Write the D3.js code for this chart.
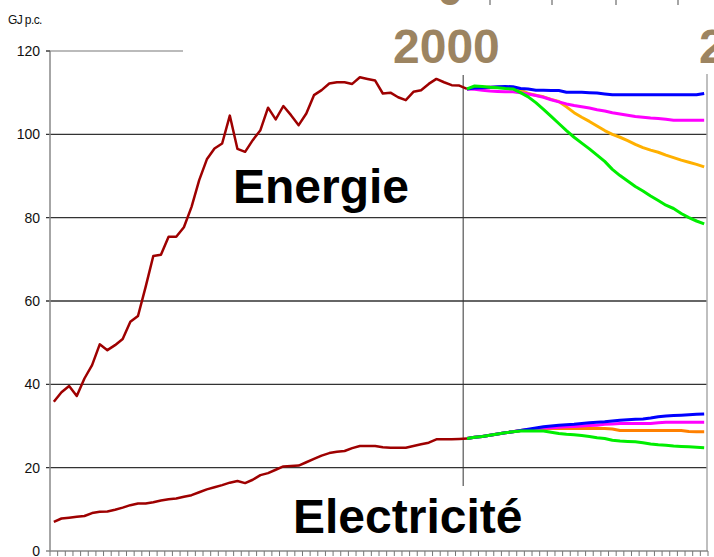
<!DOCTYPE html>
<html>
<head>
<meta charset="utf-8">
<script src="https://cdn.jsdelivr.net/npm/d3@7"></script>
<style>
    body { margin: 0; background: #fff; }
    svg { display: block; font-family: "Liberation Sans", Arial, sans-serif; }
</style>
</head>
<body>
<svg id="chart" width="714" height="557"></svg>
<script>
// categories: one band per year, history up to 2000, scenarios after
var years = d3.range(1946, 2032);
var histYears = d3.range(1946, 2001);
var projYears = d3.range(2000, 2032);
var yTicks = [0, 20, 40, 60, 80, 100, 120];

var energyHist = [35.8, 38.1, 39.6, 37.2, 41.4, 44.6, 49.6, 48.2, 49.4, 50.9,
    55.0, 56.4, 63.4, 70.8, 71.1, 75.4, 75.4, 77.7, 82.6, 89.0,
    94.0, 96.6, 97.8, 104.5, 96.5, 95.8, 98.6, 101.0, 106.4, 103.6,
    106.8, 104.6, 102.2, 105.0, 109.4, 110.6, 112.2, 112.5, 112.5, 112.1,
    113.7, 113.3, 112.9, 109.8, 110.0, 108.9, 108.2, 110.2, 110.6, 112.1,
    113.3, 112.5, 111.8, 111.7, 110.9];
var elecHist = [7.0, 7.8, 8.0, 8.2, 8.4, 9.1, 9.4, 9.5, 9.9, 10.4,
    11.0, 11.4, 11.4, 11.7, 12.1, 12.4, 12.6, 13.0, 13.4, 14.1,
    14.8, 15.3, 15.8, 16.4, 16.8, 16.3, 17.1, 18.2, 18.7, 19.5,
    20.3, 20.4, 20.5, 21.3, 22.1, 22.9, 23.5, 23.8, 24.0, 24.7,
    25.2, 25.2, 25.2, 24.9, 24.8, 24.8, 24.8, 25.2, 25.6, 26.0,
    26.8, 26.8, 26.8, 26.9, 27.0];

var energyOrange = [110.9, 111.2, 111.3, 111.3, 111.3, 111.3, 111.2, 110.6, 109.8, 109.4,
    109.0, 108.4, 107.9, 106.6, 105.2, 104.1, 103.1, 102.0, 100.9, 100.0,
    99.3, 98.5, 97.6, 96.8, 96.2, 95.7, 95.0, 94.4, 93.8, 93.3, 92.8, 92.2];
var energyMagenta = [110.9, 110.8, 110.6, 110.4, 110.3, 110.2, 110.2, 110.0, 109.7, 109.3,
    108.9, 108.3, 107.8, 107.3, 106.9, 106.6, 106.3, 105.9, 105.6, 105.2,
    104.9, 104.6, 104.3, 104.1, 103.9, 103.8, 103.6, 103.4, 103.4, 103.4, 103.4, 103.4];
var energyBlue = [110.9, 111.1, 111.2, 111.3, 111.4, 111.5, 111.4, 111.0, 110.9, 110.6,
    110.6, 110.5, 110.5, 110.1, 110.1, 110.1, 110.0, 109.9, 109.7, 109.5,
    109.5, 109.5, 109.5, 109.5, 109.5, 109.5, 109.5, 109.5, 109.5, 109.5, 109.5, 109.8];
var energyGreen = [110.9, 111.6, 111.5, 111.3, 111.2, 111.0, 110.9, 110.0, 109.0, 107.6,
    106.0, 104.3, 102.6, 100.9, 99.3, 97.9, 96.5, 95.0, 93.5, 91.6,
    90.1, 88.8, 87.5, 86.4, 85.2, 84.1, 83.0, 82.2, 81.0, 80.0, 79.2, 78.5];

var elecOrange = [27.0, 27.3, 27.5, 27.8, 28.1, 28.4, 28.6, 28.9, 29.1, 29.2,
    29.3, 29.4, 29.4, 29.4, 29.4, 29.4, 29.4, 29.4, 29.4, 29.3,
    28.9, 28.9, 28.9, 28.9, 28.9, 28.9, 28.9, 28.9, 28.9, 28.7, 28.6, 28.6];
var elecMagenta = [27.0, 27.3, 27.5, 27.8, 28.1, 28.4, 28.6, 28.9, 29.1, 29.3,
    29.5, 29.6, 29.7, 29.8, 29.9, 30.0, 30.1, 30.2, 30.4, 30.5,
    30.6, 30.6, 30.6, 30.6, 30.6, 30.8, 30.9, 30.9, 30.9, 30.9, 30.9, 30.9];
var elecBlue = [27.0, 27.3, 27.5, 27.8, 28.1, 28.4, 28.6, 28.9, 29.2, 29.5,
    29.8, 30.0, 30.2, 30.3, 30.4, 30.6, 30.8, 30.9, 31.0, 31.2,
    31.4, 31.5, 31.6, 31.7, 31.9, 32.2, 32.4, 32.5, 32.6, 32.7, 32.8, 32.9];
var elecGreen = [27.0, 27.3, 27.5, 27.8, 28.1, 28.4, 28.6, 28.8, 28.8, 28.8,
    28.8, 28.5, 28.2, 28.0, 27.9, 27.7, 27.5, 27.2, 27.0, 26.6,
    26.4, 26.3, 26.2, 26.0, 25.7, 25.5, 25.4, 25.2, 25.1, 25.0, 24.9, 24.8];

var svg = d3.select("#chart");

var x = d3.scaleBand().domain(years).range([50, 708]).padding(0);
var y = d3.scaleLinear().domain([0, 120]).range([551, 51]);
var cx = function (yr) { return x(yr) + x.bandwidth() / 2; };

// gridlines
svg.append("g")
    .selectAll("line")
    .data(yTicks.filter(function (d) { return d > 0; }))
    .enter()
    .append("line")
    .attr("x1", 46).attr("x2", 707)
    .attr("y1", function (d) { return y(d); })
    .attr("y2", function (d) { return y(d); })
    .attr("stroke", function (d) { return d === 120 ? "#bbb" : "#333"; })
    .attr("stroke-width", function (d) { return d === 120 ? 2 : 1.3; });

// plot frame: left axis, right border, bottom axis
svg.append("line").attr("x1", 50).attr("x2", 50).attr("y1", y(120)).attr("y2", y(0))
    .attr("stroke", "#888").attr("stroke-width", 1.5);
svg.append("line").attr("x1", 707).attr("x2", 707).attr("y1", y(120)).attr("y2", y(0))
    .attr("stroke", "#aaa").attr("stroke-width", 1.5);
svg.append("line").attr("x1", 46).attr("x2", 708).attr("y1", y(0)).attr("y2", y(0))
    .attr("stroke", "#888").attr("stroke-width", 1.5);
svg.append("line").attr("x1", 46).attr("x2", 50).attr("y1", y(120)).attr("y2", y(120))
    .attr("stroke", "#555").attr("stroke-width", 1.5);

// x ticks on band edges
svg.append("g")
    .selectAll("line")
    .data(years.concat([null]))
    .enter()
    .append("line")
    .attr("x1", function (d) { return d === null ? 708 : x(d); })
    .attr("x2", function (d) { return d === null ? 708 : x(d); })
    .attr("y1", y(0)).attr("y2", y(0) + 5)
    .attr("stroke", "#777").attr("stroke-width", 1);

// y tick labels
svg.append("g")
    .selectAll("text")
    .data(yTicks)
    .enter()
    .append("text")
    .attr("x", 40)
    .attr("y", function (d) { return y(d) + 5; })
    .attr("text-anchor", "end")
    .attr("font-size", 14)
    .attr("fill", "#111")
    .text(function (d) { return d; });

svg.append("text")
    .attr("x", 8).attr("y", 24)
    .attr("font-size", 12)
    .attr("letter-spacing", -0.6)
    .attr("fill", "#111")
    .text("GJ p.c.");

// marker line at 2000
svg.append("line")
    .attr("x1", x(2000)).attr("x2", x(2000))
    .attr("y1", 75).attr("y2", 486)
    .attr("stroke", "#333").attr("stroke-width", 1);

var line = d3.line()
    .x(function (d) { return cx(d[0]); })
    .y(function (d) { return y(d[1]); });

function drawSeries(yrs, vals, color, width) {
    svg.append("path")
        .datum(d3.zip(yrs, vals))
        .attr("d", line)
        .attr("fill", "none")
        .attr("stroke", color)
        .attr("stroke-width", width)
        .attr("stroke-linejoin", "round");
}

drawSeries(histYears, energyHist, "#9e0000", 2.5);
drawSeries(histYears, elecHist, "#9e0000", 2.5);

drawSeries(projYears, energyOrange, "#ffb000", 3);
drawSeries(projYears, energyMagenta, "#ff00ff", 3);
drawSeries(projYears, energyBlue, "#0000ff", 3);
drawSeries(projYears, energyGreen, "#00ee00", 3);

drawSeries(projYears, elecOrange, "#ff8000", 3);
drawSeries(projYears, elecMagenta, "#ff00ff", 3);
drawSeries(projYears, elecBlue, "#0000ff", 3);
drawSeries(projYears, elecGreen, "#00ee00", 3);

// slide overlay covering top of the plot
svg.append("rect").attr("x", 183).attr("y", 0).attr("width", 531).attr("height", 74).attr("fill", "#fff");

svg.append("text")
    .attr("x", 393).attr("y", 63)
    .attr("font-size", 48).attr("font-weight", "bold")
    .attr("fill", "#9c8461")
    .text("2000");
svg.append("text")
    .attr("x", 699).attr("y", 63)
    .attr("font-size", 48).attr("font-weight", "bold")
    .attr("fill", "#9c8461")
    .text("2030");
svg.append("text")
    .attr("x", 450).attr("y", 5)
    .attr("text-anchor", "middle")
    .attr("font-size", 48).attr("font-weight", "bold")
    .attr("fill", "#9c8461")
    .text("0");

// cut-off ruler ticks at the top edge
var rulerTicks = [490, 552, 616, 678];
svg.append("g")
    .selectAll("line")
    .data(rulerTicks)
    .enter()
    .append("line")
    .attr("x1", function (d) { return d; })
    .attr("x2", function (d) { return d; })
    .attr("y1", 0).attr("y2", 5)
    .attr("stroke", "#888").attr("stroke-width", 1.5);

svg.append("text")
    .attr("x", 233).attr("y", 203)
    .attr("font-size", 48).attr("font-weight", "bold")
    .attr("fill", "#000")
    .text("Energie");
svg.append("text")
    .attr("x", 293).attr("y", 533)
    .attr("font-size", 48).attr("font-weight", "bold")
    .attr("fill", "#000")
    .text("Electricité");
</script>
</body>
</html>
